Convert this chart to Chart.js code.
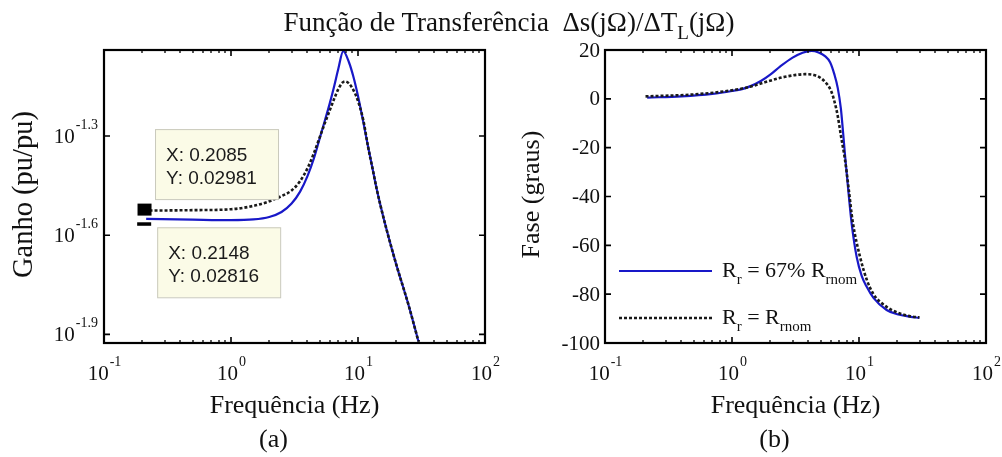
<!DOCTYPE html>
<html lang="pt">
<head>
<meta charset="utf-8">
<title>Função de Transferência</title>
<script src="https://cdn.jsdelivr.net/npm/chart.js@4.4.1/dist/chart.umd.min.js"></script>
<style>
  html, body { margin: 0; padding: 0; background: #fff; }
  #wrap { position: relative; width: 1002px; height: 457px; overflow: hidden; }
  canvas { position: absolute; top: 0; }
  #chartGanho { left: 0; }
  #chartFase { left: 501px; }
  #titulo {
    position: absolute; left: 0; top: 9px; width: 1002px; padding-left: 16px; box-sizing: border-box;
    text-align: center; white-space: nowrap; color: #111;
    font: 27px/27px "Liberation Serif", "Times New Roman", serif;
  }
  #titulo sub { font-size: 19px; line-height: 0; vertical-align: -8px; }
</style>
</head>
<body>
<div id="wrap">
  <canvas id="chartGanho" width="501" height="457"></canvas>
  <canvas id="chartFase" width="501" height="457"></canvas>
  <div id="titulo">Função de Transferência&nbsp; Δs(jΩ)/ΔT<sub>L</sub>(jΩ)</div>
</div>
<script>
// eixos
const xDecadas = [-1, 0, 1, 2];              // 10^-1 ... 10^2 Hz
const ganhoExpoentes = [-1.9, -1.6, -1.3];   // 10^-1.9 ... 10^-1.3
const ganhoLimites = [-1.926, -1.04];        // expoentes min/max do eixo
const faseTicks = [-100, -80, -60, -40, -20, 0, 20];

// (a) ganho - Rr = Rrnom (pontilhado)
const freqNom = [0.2085, 0.5, 1, 1.5, 2, 2.5, 3, 3.5, 4, 4.5, 5, 5.5, 6, 6.5, 7, 7.5, 7.9, 8.5, 9.2, 10, 11, 12, 13.2, 14, 15, 16.8, 20, 25, 29.9];
const ganhoNom = [0.02981, 0.0299, 0.0301, 0.0308, 0.0318, 0.0330, 0.0343, 0.0366, 0.0400, 0.0445, 0.0497, 0.0550, 0.0600, 0.0650, 0.0695, 0.0725, 0.0733, 0.0722, 0.0690, 0.0640, 0.0560, 0.0465, 0.0389, 0.0348, 0.0310, 0.0261, 0.0205, 0.01545, 0.0120];

// (a) ganho - Rr = 67% Rrnom (cheia)
const freq67 = [0.2148, 0.5, 1, 1.5, 2, 2.5, 3, 3.5, 4, 4.5, 5, 5.5, 6, 6.5, 7, 7.65, 8.5, 9.2, 10, 11, 12, 13.2, 14, 15, 16.8, 20, 25, 29.9];
const ganho67 = [0.02816, 0.0280, 0.0279, 0.02803, 0.02851, 0.02952, 0.03131, 0.03402, 0.03791, 0.04293, 0.04939, 0.0560, 0.0630, 0.0710, 0.0800, 0.0905, 0.0836, 0.0757, 0.0662, 0.0553, 0.0466, 0.0389, 0.0348, 0.0310, 0.0261, 0.0205, 0.01545, 0.0120];

// (b) fase em graus
const freqFaseNom = [0.2085, 0.5, 1, 1.4, 1.87, 2.5, 3.2, 3.76, 4.4, 5, 5.5, 6, 6.4, 6.8, 7.2, 7.76, 8.3, 8.9, 10.2, 11.5, 13, 16.5, 20, 25, 29.9];
const faseNom = [1.0, 1.8, 3.5, 5.0, 7.0, 8.8, 9.8, 10.1, 9.8, 8.5, 6.5, 3.5, -1, -7, -15, -25, -37, -50, -64.8, -74, -80, -85.2, -87.5, -89, -89.5];
const freqFase67 = [0.2148, 0.4, 0.7, 1, 1.2, 1.4, 1.7, 2, 2.4, 3, 3.6, 4.24, 4.8, 5.4, 5.92, 6.4, 6.8, 7.2, 7.5, 7.76, 8.24, 8.75, 9.59, 10.5, 11.5, 13, 16.5, 20, 25, 29.9];
const fase67 = [0.5, 1.0, 2.0, 3.2, 4.0, 5.2, 7.4, 9.9, 13.3, 16.9, 18.9, 19.6, 19.0, 17.5, 15.0, 10.0, 4.5, -4, -14, -23, -37.6, -51, -64.8, -72.5, -77, -81.5, -86.5, -88.2, -89.2, -89.7];

// legenda (texto, 1 = subscrito)
const legenda67 = [["R", 0], ["r", 1], [" = 67% R", 0], ["rnom", 1]];
const legendaNom = [["R", 0], ["r", 1], [" = R", 0], ["rnom", 1]];

const SERIF = "'Liberation Serif', 'Times New Roman', serif";
const AZUL = "#1818c8";
const PRETO = "#1a1a1a";

const pares = (xs, ys) => xs.map((x, i) => ({ x: x, y: ys[i] }));

function potencia(ctx, exp, x, y, align) {
  ctx.font = "21px " + SERIF;
  const wBase = ctx.measureText("10").width;
  ctx.font = "14px " + SERIF;
  const wExp = ctx.measureText(exp).width;
  const x0 = align === "center" ? x - (wBase + wExp) / 2 : x - wBase - wExp;
  ctx.textAlign = "left";
  ctx.textBaseline = "alphabetic";
  ctx.font = "21px " + SERIF;
  ctx.fillText("10", x0, y);
  ctx.font = "14px " + SERIF;
  ctx.fillText(exp, x0 + wBase + 1, y - 14);
}

function textoComIndices(ctx, partes, x, y) {
  ctx.textAlign = "left";
  ctx.textBaseline = "alphabetic";
  partes.forEach(([txt, sub]) => {
    ctx.font = (sub ? "15px " : "22px ") + SERIF;
    ctx.fillText(txt, x, sub ? y + 7 : y);
    x += ctx.measureText(txt).width;
  });
}

function caixa(ctx, x, y, linhas) {
  ctx.fillStyle = "#fbfbe7";
  ctx.strokeStyle = "#c9c9bc";
  ctx.lineWidth = 1;
  ctx.fillRect(x, y, 123, 70);
  ctx.strokeRect(x + 0.5, y + 0.5, 123, 70);
  ctx.fillStyle = "#1a1a1a";
  ctx.font = "19px 'Liberation Sans', Arial, sans-serif";
  ctx.textAlign = "left";
  ctx.textBaseline = "alphabetic";
  linhas.forEach((t, i) => ctx.fillText(t, x + 11, y + 32 + i * 23));
}

// eixos no estilo MATLAB: moldura, ticks para dentro, rótulos com expoente
function eixosMatlab(cfg) {
  return {
    id: "eixosMatlab",
    afterDraw(chart) {
      const { ctx, chartArea: a, scales: { x, y } } = chart;
      ctx.save();
      ctx.strokeStyle = "#000";

      ctx.lineWidth = 1.3;
      ctx.beginPath();
      for (let i = 0; i < xDecadas.length - 1; i++) {
        for (let m = 2; m <= 9; m++) {
          const px = Math.round(x.getPixelForValue(m * Math.pow(10, xDecadas[i])));
          ctx.moveTo(px, a.bottom); ctx.lineTo(px, a.bottom - 3);
          ctx.moveTo(px, a.top); ctx.lineTo(px, a.top + 3);
        }
      }
      ctx.stroke();

      ctx.lineWidth = 1.6;
      ctx.beginPath();
      xDecadas.forEach(d => {
        const px = x.getPixelForValue(Math.pow(10, d));
        ctx.moveTo(px, a.bottom); ctx.lineTo(px, a.bottom - 6);
        ctx.moveTo(px, a.top); ctx.lineTo(px, a.top + 6);
      });
      cfg.yTicks.forEach(v => {
        const py = y.getPixelForValue(v);
        ctx.moveTo(a.left, py); ctx.lineTo(a.left + 6, py);
        ctx.moveTo(a.right, py); ctx.lineTo(a.right - 6, py);
      });
      ctx.stroke();

      ctx.lineWidth = 2.2;
      ctx.strokeRect(a.left, a.top, a.right - a.left, a.bottom - a.top);

      ctx.fillStyle = "#111";
      xDecadas.forEach(d => potencia(ctx, String(d), x.getPixelForValue(Math.pow(10, d)), a.bottom + 37, "center"));
      cfg.yTicks.forEach((v, i) => {
        const py = y.getPixelForValue(v);
        if (cfg.yExpoentes) {
          potencia(ctx, String(cfg.yExpoentes[i]), a.left - 7, py + 7, "right");
        } else {
          ctx.font = "21px " + SERIF;
          ctx.textAlign = "right";
          ctx.textBaseline = "middle";
          ctx.fillText(String(v), a.left - 5, py + 1);
        }
      });

      // títulos dos eixos
      const cx = (a.left + a.right) / 2;
      ctx.font = "26px " + SERIF;
      ctx.textAlign = "center";
      ctx.textBaseline = "alphabetic";
      ctx.fillText("Frequência (Hz)", cx, a.bottom + 70);
      ctx.fillText(cfg.letra, cx - 21, a.bottom + 104);
      ctx.save();
      ctx.translate(cfg.yTituloX, (a.top + a.bottom) / 2 - 2);
      ctx.rotate(-Math.PI / 2);
      ctx.font = cfg.yTituloTam + "px " + SERIF;
      ctx.textBaseline = "middle";
      ctx.fillText(cfg.yTitulo, 0, 0);
      ctx.restore();

      // caixas de dados (a)
      if (cfg.datatips) {
        const pNom = chart.getDatasetMeta(0).data[0];
        const p67 = chart.getDatasetMeta(1).data[0];
        caixa(ctx, pNom.x + 10.5, pNom.y - 81.5, ["X: " + freqNom[0], "Y: " + ganhoNom[0]]);
        caixa(ctx, p67.x + 11, p67.y + 8.5, ["X: " + freq67[0], "Y: " + ganho67[0]]);
        ctx.fillStyle = "#000";
        ctx.fillRect(pNom.x - 7, pNom.y - 7, 14, 12);
        ctx.fillRect(p67.x - 9, p67.y + 3.5, 14, 3.5);
      }

      // legenda (b)
      if (cfg.legenda) {
        cfg.legenda.forEach((item, i) => {
          const ds = chart.data.datasets[item.ds];
          const ly = a.top + 221 + i * 47;
          ctx.strokeStyle = ds.borderColor;
          ctx.lineWidth = ds.borderWidth;
          ctx.setLineDash(ds.borderDash || []);
          ctx.beginPath();
          ctx.moveTo(a.left + 14, ly);
          ctx.lineTo(a.left + 107, ly);
          ctx.stroke();
          ctx.setLineDash([]);
          ctx.fillStyle = "#111";
          textoComIndices(ctx, item.partes, a.left + 117, ly + 6);
        });
      }
      ctx.restore();
    }
  };
}

function opcoesBase(yEscala) {
  return {
    responsive: false,
    animation: false,
    events: [],
    layout: { padding: { left: 104, right: 16, top: 50, bottom: 114 } },
    elements: { point: { radius: 0 }, line: { cubicInterpolationMode: "monotone", borderCapStyle: "butt" } },
    plugins: { legend: { display: false }, tooltip: { enabled: false }, title: { display: false } },
    scales: {
      x: { type: "logarithmic", min: 0.1, max: 100, display: false },
      y: Object.assign({ display: false }, yEscala)
    }
  };
}

document.addEventListener("DOMContentLoaded", () => {
  Chart.defaults.font.family = SERIF;

  // (a) Ganho
  new Chart(document.getElementById("chartGanho"), {
    type: "line",
    data: {
      datasets: [
        { label: "Rr = Rrnom", data: pares(freqNom, ganhoNom), borderColor: PRETO, borderWidth: 2.6, borderDash: [3, 2] },
        { label: "Rr = 67% Rrnom", data: pares(freq67, ganho67), borderColor: AZUL, borderWidth: 2.2 }
      ]
    },
    options: opcoesBase({ type: "logarithmic", min: Math.pow(10, ganhoLimites[0]), max: Math.pow(10, ganhoLimites[1]) }),
    plugins: [eixosMatlab({
      yTicks: ganhoExpoentes.map(e => Math.pow(10, e)),
      yExpoentes: ganhoExpoentes,
      yTitulo: "Ganho (pu/pu)",
      yTituloTam: 28.5,
      yTituloX: 25,
      letra: "(a)",
      datatips: true
    })]
  });

  // (b) Fase
  new Chart(document.getElementById("chartFase"), {
    type: "line",
    data: {
      datasets: [
        { label: "Rr = Rrnom", data: pares(freqFaseNom, faseNom), borderColor: PRETO, borderWidth: 2.6, borderDash: [3, 2] },
        { label: "Rr = 67% Rrnom", data: pares(freqFase67, fase67), borderColor: AZUL, borderWidth: 2.2 }
      ]
    },
    options: opcoesBase({ type: "linear", min: -100, max: 20 }),
    plugins: [eixosMatlab({
      yTicks: faseTicks,
      yTitulo: "Fase (graus)",
      yTituloTam: 26,
      yTituloX: 31,
      letra: "(b)",
      legenda: [{ ds: 1, partes: legenda67 }, { ds: 0, partes: legendaNom }]
    })]
  });
});
</script>
</body>
</html>
